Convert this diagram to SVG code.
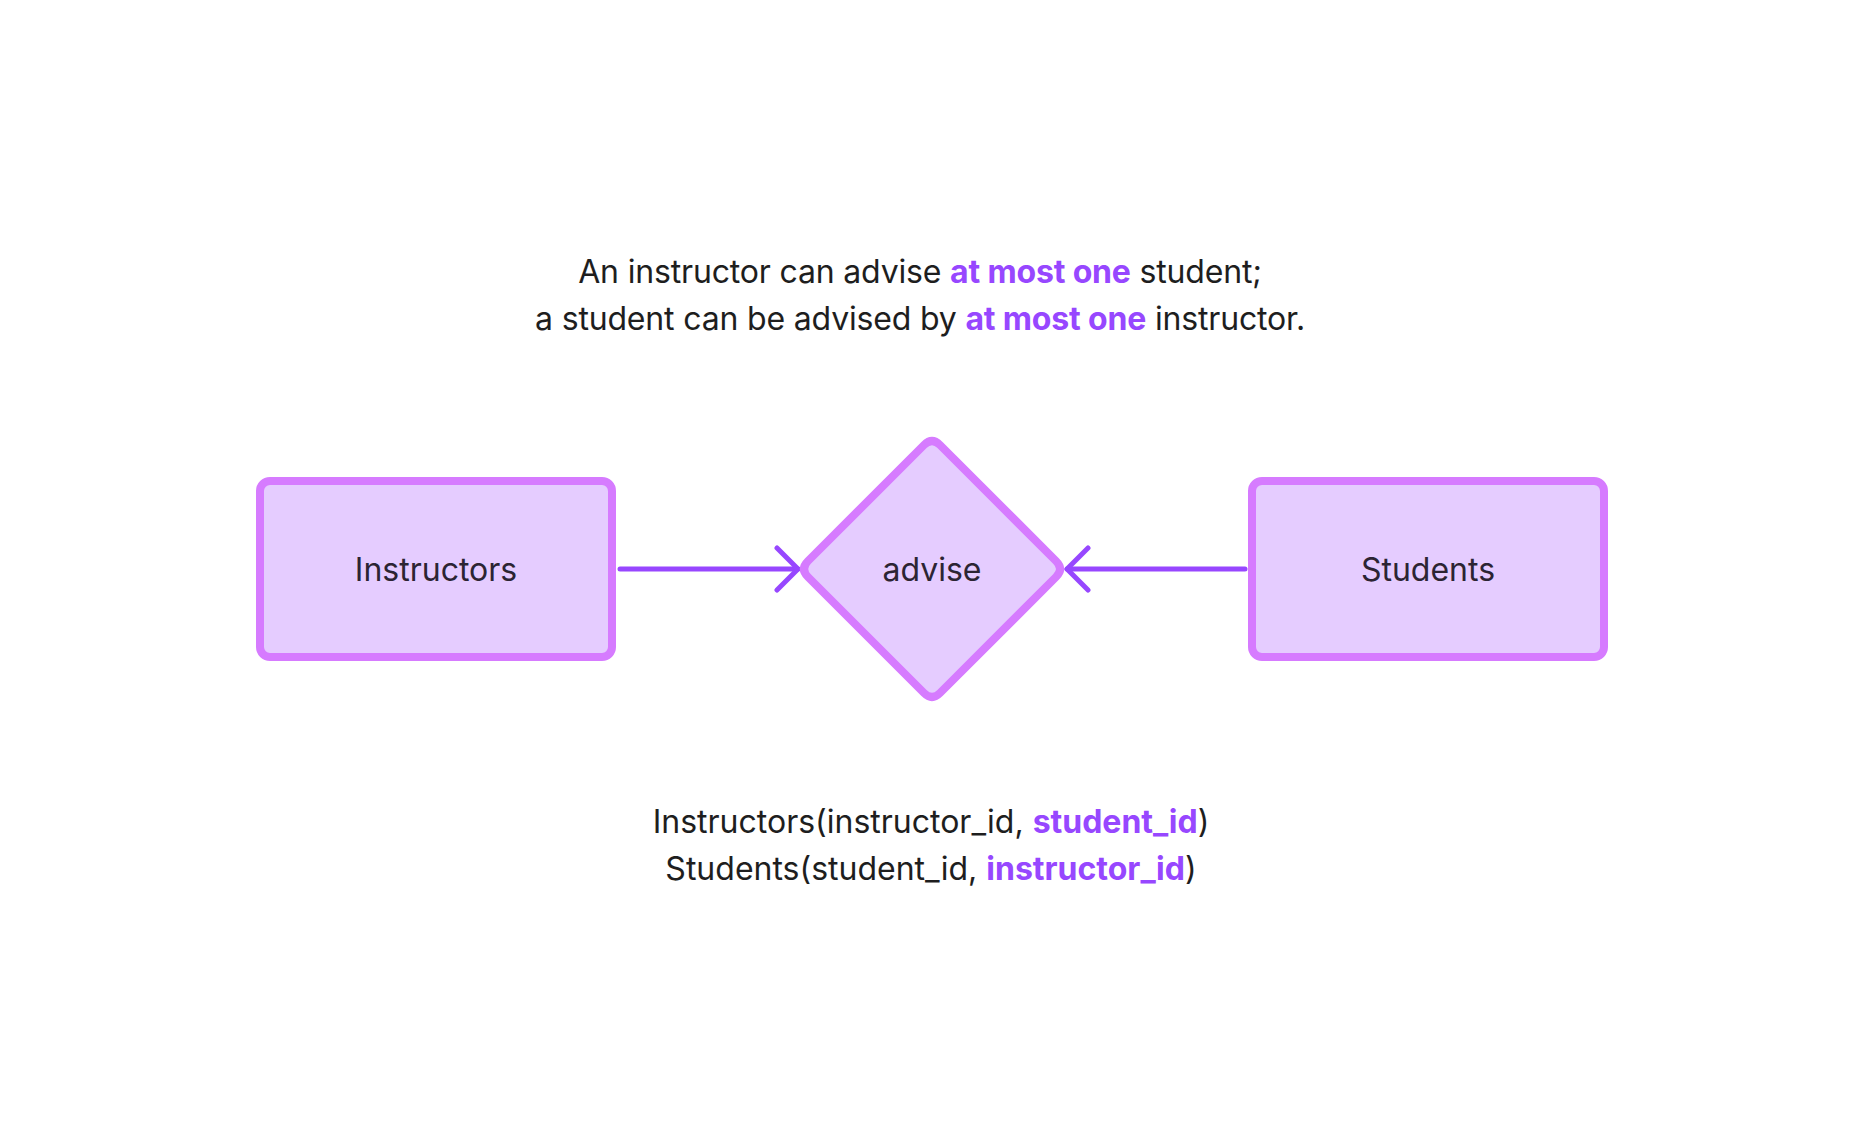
<svg xmlns="http://www.w3.org/2000/svg" width="1864" height="1143" viewBox="0 0 1864 1143">
  <defs>
    <style>
      .t { font-family: Inter, "Noto Sans", "Liberation Sans", sans-serif; font-size: 32px; fill: #1e1e1e; }
      .ttl { letter-spacing: -0.17px; }
      .hl { fill: #9747ff; font-weight: 700; }
      .node { fill: #e5ccff; stroke: #d67bff; stroke-width: 8; stroke-linejoin: round; }
      .label { font-family: Inter, "Noto Sans", "Liberation Sans", sans-serif; font-size: 32px; fill: #2c2433; text-anchor: middle; }
      .edge { fill: none; stroke: #9747ff; stroke-width: 5; stroke-linecap: round; stroke-linejoin: round; }
    </style>
    <marker id="arrow" viewBox="0 0 30 50" refX="24" refY="25" markerWidth="30" markerHeight="50" markerUnits="userSpaceOnUse" orient="auto">
      <path d="M3 4 L24 25 L3 46" fill="none" stroke="#9747ff" stroke-width="5" stroke-linecap="round" stroke-linejoin="round"/>
    </marker>
  </defs>
  <rect width="1864" height="1143" fill="#ffffff"/>

  <g id="title">
    <text class="t ttl" x="920" y="283" text-anchor="middle">An instructor can advise <tspan class="hl">at most one</tspan> student;</text>
    <text class="t ttl" x="920" y="330" text-anchor="middle">a student can be advised by <tspan class="hl">at most one</tspan> instructor.</text>
  </g>

  <g id="connectors">
    <line class="edge" x1="620" y1="569" x2="798" y2="569" marker-end="url(#arrow)"/>
    <line class="edge" x1="1245" y1="569" x2="1067" y2="569" marker-end="url(#arrow)"/>
  </g>

  <g id="node-instructors">
    <rect class="node" x="260" y="481" width="352" height="176" rx="10" ry="10"/>
    <text class="label" x="436" y="581">Instructors</text>
  </g>

  <g id="node-advise">
    <path class="node" d="M924 445 Q932 437 940 445 L1056 561 Q1064 569 1056 577 L940 693 Q932 701 924 693 L808 577 Q800 569 808 561 Z"/>
    <text class="label" x="932" y="581">advise</text>
  </g>

  <g id="node-students">
    <rect class="node" x="1252" y="481" width="352" height="176" rx="10" ry="10"/>
    <text class="label" x="1428" y="581">Students</text>
  </g>

  <g id="schema">
    <text class="t" x="931" y="833" text-anchor="middle">Instructors(instructor_id, <tspan class="hl">student_id</tspan>)</text>
    <text class="t" x="931" y="880" text-anchor="middle">Students(student_id, <tspan class="hl">instructor_id</tspan>)</text>
  </g>
</svg>
